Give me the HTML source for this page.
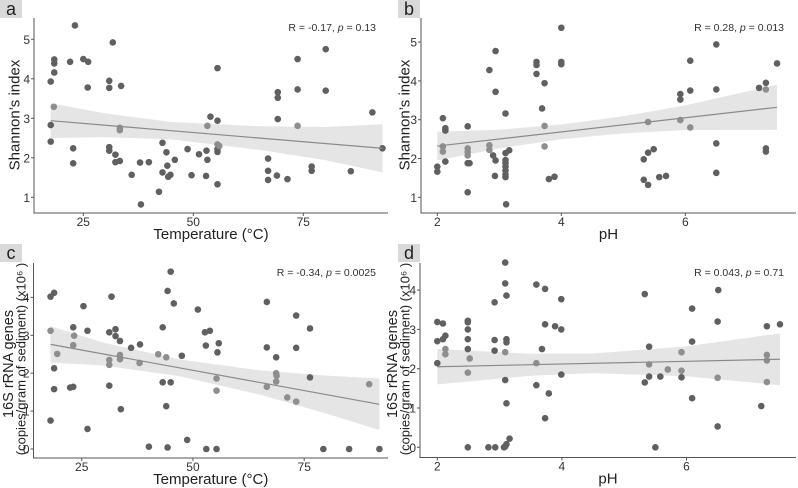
<!DOCTYPE html>
<html><head><meta charset="utf-8"><style>
html,body{margin:0;padding:0;background:#fff;}
svg{display:block;font-family:"Liberation Sans",sans-serif;}
</style></head><body>
<svg id="chart" width="798" height="488" viewBox="0 0 798 488">
</svg>
<script>
// Panel a: Shannon vs Temperature
const aX=[23.1,31.7,17.6,18.4,18.4,18.4,17.6,17.6,22.0,25,26.1,26.0,22.7,22.7,30.9,30.9,33.6,30.9,30.9,32.3,32.3,33.3,36.0,37.9,39.9,38.1,43.0,43.9,43.0,44.1,44.3,44.8,45.8,42.2,48.7,49.6,51.3,53.0,53.2,52.9,53.9,55.5,55.5,55.5,55.5,55.5,67.0,67.0,67.0,69.2,69.2,69.2,69.0,71.4,73.7,73.7,76.9,76.9,80.1,80.1,85.8,90.7,93.0];
const aY=[5.35,4.92,3.93,4.49,4.39,4.16,2.83,2.41,4.43,4.50,4.43,3.78,2.24,1.86,3.95,3.77,3.82,2.27,2.18,2.08,1.89,1.92,1.57,1.88,1.89,0.82,2.38,2.14,1.63,1.80,1.52,1.57,1.95,1.14,2.22,1.56,2.09,2.18,1.95,1.54,3.04,4.27,2.94,2.22,2.15,1.33,1.98,1.67,1.44,3.66,3.52,2.98,1.55,1.46,4.50,3.73,1.78,1.67,4.75,3.70,1.66,3.15,2.24];
const aXl=[18.3,33.3,33.3,53.2,55.5,55.9,73.7];
const aYl=[3.29,2.76,2.70,2.81,2.34,2.30,2.81];
const aLineX=[17.6,93.0], aLineY=[2.94,2.24];
const aBandX=[17.6,30,45,65,80,93.0], aBandHalf=[0.44,0.30,0.22,0.30,0.42,0.61];
// Panel b: Shannon vs pH
const bX=[2.0,2.0,2.09,2.13,2.13,2.13,2.49,2.49,2.52,2.49,2.84,2.94,2.94,2.90,2.94,2.93,3.10,3.10,3.16,3.10,3.10,3.10,3.10,3.10,3.10,3.11,3.60,3.60,3.60,3.73,3.69,3.80,3.89,4.0,4.0,4.0,5.33,5.33,5.40,5.40,5.49,5.58,5.69,5.92,5.92,6.08,6.08,6.50,6.50,6.50,6.50,7.19,7.30,7.30,7.30,7.48];
const bY=[1.79,1.66,3.04,2.78,2.72,1.92,2.83,1.88,1.88,1.13,4.28,4.77,3.72,2.08,1.95,1.55,3.16,2.14,2.21,1.96,1.88,1.79,1.69,1.59,1.52,0.82,4.49,4.41,4.18,3.94,3.29,1.47,1.53,5.37,4.49,4.43,1.98,1.45,1.32,2.15,2.24,1.52,1.55,3.66,3.52,4.52,3.75,4.94,3.78,2.39,1.63,3.82,3.95,2.26,2.18,4.45];
const bXl=[2.09,2.09,2.49,2.49,2.49,2.84,2.84,3.73,3.73,5.40,5.92,6.08,7.30];
const bYl=[2.31,2.18,2.26,2.17,2.08,2.34,2.22,2.84,2.31,2.94,2.99,2.80,3.78];
const bLineX=[2.0,7.48], bLineY=[2.32,3.32];
const bBandX=[2.0,3.0,4.0,5.0,6.0,7.48], bBandHalf=[0.37,0.24,0.19,0.22,0.32,0.58];
// Panel c: 16S vs Temperature
const cX=[18.0,18.8,18.8,18.8,18.0,23.1,22.4,23.1,25.4,26.3,26.3,31.7,31.2,32.6,32.6,33.6,31.2,33.8,36.1,38.1,40.1,43.2,43.2,44.3,45.0,45.7,45.0,44.0,44.3,47.5,48.7,51.1,52.7,53.8,52.9,55.5,55.8,53.0,55.3,66.6,66.6,68.7,73.2,73.2,76.3,76.3,79.3,85.1,91.9];
const cY=[4.02,4.12,2.13,1.58,0.75,3.21,1.62,1.64,3.77,3.12,0.53,4.02,3.08,3.16,2.98,2.85,1.67,1.05,2.67,2.76,0.06,3.21,1.76,4.17,4.68,3.84,1.76,1.13,0.04,2.46,0.24,3.68,3.08,3.12,2.73,2.55,2.79,0,0,3.88,2.68,2.42,3.52,2.67,3.18,1.89,0,0,0];
const cXl=[18.0,19.5,23.3,23.1,31.2,31.2,33.6,33.6,38.0,42.2,44.0,55.3,55.3,66.6,68.7,68.8,68.7,71.2,73.2,89.6];
const cYl=[3.12,2.51,2.99,2.74,2.35,2.22,2.48,2.37,2.27,2.50,2.42,1.86,1.54,1.64,2.00,1.93,1.78,1.36,1.25,1.71];
const cLineX=[18.0,91.9], cLineY=[2.76,1.18];
const cBandX=[18.0,30,47,65,80,91.9], cBandHalf=[0.48,0.30,0.22,0.32,0.50,0.68];
// Panel d: 16S vs pH
const dX=[2.0,2.0,2.0,2.09,2.09,2.13,2.49,2.49,2.49,2.49,2.49,2.49,2.82,2.93,2.92,2.92,2.92,3.09,3.09,3.11,3.11,3.11,3.09,3.11,3.07,3.09,3.11,3.16,3.59,3.73,3.73,3.89,3.99,3.99,3.99,3.68,3.59,3.79,3.73,5.33,5.40,5.40,5.33,5.50,5.58,5.92,6.09,6.09,6.09,6.51,6.50,6.50,7.20,7.29,7.50];
const dY=[3.19,2.70,2.14,3.15,2.75,2.84,3.22,3.18,3.00,2.75,2.50,0,0,0,3.69,2.73,2.46,4.70,4.17,3.86,2.75,2.67,1.71,1.12,0,0.02,0.08,0.22,4.14,4.03,3.13,3.08,3.00,3.77,1.85,2.50,1.58,1.37,0.74,3.90,2.56,1.80,1.65,0,1.80,1.78,3.53,2.69,1.25,4.0,3.20,0.53,1.05,3.08,3.13];
const dXl=[2.13,2.13,2.52,2.49,3.09,3.59,5.40,5.70,5.92,5.92,6.50,7.29,7.29,7.29];
const dYl=[2.50,2.37,2.26,1.90,2.42,2.14,2.11,1.98,2.42,1.95,1.77,2.35,2.21,1.66];
const dLineX=[2.0,7.5], dLineY=[2.05,2.24];
const dBandX=[2.0,3.5,4.5,6.0,7.5], dBandHalf=[0.45,0.28,0.25,0.38,0.66];

const aXT=[25,50,75], aYT=[1,2,3,4,5];
const bXT=[2,4,6], bYT=[1,2,3,4,5];
const cXT=[25,50,75], cYT=[0,1,2,3,4];
const dXT=[2,4,6], dYT=[0,1,2,3,4];

const NS="http://www.w3.org/2000/svg";
const svg=document.getElementById('chart');
function mk(tag,attrs,parent){const e=document.createElementNS(NS,tag);for(const k in attrs)e.setAttribute(k,attrs[k]);(parent||svg).appendChild(e);return e;}

const panels=[
 {id:'a',xs:(v)=>83.3+(v-25)*4.4, ys:(v)=>197.3-(v-1)*39.5, L:34,R:388,T:18,B:213,
  X:aX,Y:aY,Xl:aXl,Yl:aYl,lx:aLineX,ly:aLineY,bx:aBandX,bh:aBandHalf,xt:aXT,yt:aYT,
  xlab:'Temperature (°C)',ylab:['Shannon\u2019s index'],tx:[15],ty:[115],fs:['15'],stat:['R = -0.17, ','p',' = 0.13'],lbx:0,lby:0},
 {id:'b',xs:(v)=>437.3+(v-2)*62, ys:(v)=>197.3-(v-1)*38.8, L:421,R:796,T:18,B:213,
  X:bX,Y:bY,Xl:bXl,Yl:bYl,lx:bLineX,ly:bLineY,bx:bBandX,bh:bBandHalf,xt:bXT,yt:bYT,
  xlab:'pH',ylab:['Shannon\u2019s index'],tx:[405],ty:[115],fs:['15'],stat:['R = 0.28, ','p',' = 0.013'],lbx:398,lby:0},
 {id:'c',xs:(v)=>81.7+(v-25)*4.45, ys:(v)=>449-v*37.9, L:33.5,R:388,T:263,B:458,
  X:cX,Y:cY,Xl:cXl,Yl:cYl,lx:cLineX,ly:cLineY,bx:cBandX,bh:cBandHalf,xt:cXT,yt:cYT,
  xlab:'Temperature (°C)',ylab:['16S rRNA genes','(copies/gram of sediment) (x10\u2076 )'],tx:[9,21],ty:[364,359],fs:['14.5','13'],stat:['R = -0.34, ','p',' = 0.0025'],lbx:0,lby:244},
 {id:'d',xs:(v)=>437.3+(v-2)*62.3, ys:(v)=>447.3-v*39.3, L:420,R:796,T:263,B:457.5,
  X:dX,Y:dY,Xl:dXl,Yl:dYl,lx:dLineX,ly:dLineY,bx:dBandX,bh:dBandHalf,xt:dXT,yt:dYT,
  xlab:'pH',ylab:['16S rRNA genes','(copies/gram of sediment) (x10\u2076 )'],tx:[393,405],ty:[364,359],fs:['14.5','13'],stat:['R = 0.043, ','p',' = 0.71'],lbx:398,lby:244}
];

panels.forEach(p=>{
  const g=mk('g',{});
  
  
  const line=(x)=>p.ly[0]+(x-p.lx[0])*(p.ly[1]-p.ly[0])/(p.lx[1]-p.lx[0]);
  let up=[],lo=[];
  for(let i=0;i<p.bx.length;i++){up.push(p.xs(p.bx[i])+','+p.ys(line(p.bx[i])+p.bh[i]));lo.unshift(p.xs(p.bx[i])+','+p.ys(line(p.bx[i])-p.bh[i]));}
  const band=mk('polygon',{points:up.concat(lo).join(' '),fill:'#e5e5e6'},g);
  
  
  for(let i=0;i<p.X.length;i++){
    const c=mk('circle',{cx:p.xs(p.X[i]),cy:p.ys(p.Y[i]),r:3.3,fill:'#606060'},g);
    
    
  }
  for(let i=0;i<p.Xl.length;i++){
    const c=mk('circle',{cx:p.xs(p.Xl[i]),cy:p.ys(p.Yl[i]),r:3.3,fill:'#8e8e8e'},g);
    
    
  }
  const rl=mk('line',{x1:p.xs(p.lx[0]),y1:p.ys(p.ly[0]),x2:p.xs(p.lx[1]),y2:p.ys(p.ly[1]),stroke:'#8a8a8a','stroke-width':1.2},g);
  
  
  const ax=mk('path',{d:`M${p.L},${p.T}V${p.B}H${p.R}`,stroke:'#555',fill:'none','stroke-width':1},g);
  
  
  p.xt.forEach(t=>{
    const x=p.xs(t);
    mk('line',{x1:x,y1:p.B,x2:x,y2:p.B+3,stroke:'#555'},g);
    const tx=mk('text',{x:x,y:p.B+13,'text-anchor':'middle','font-size':'12',fill:'#333'},g);
    tx.textContent=t;
    
    
  });
  p.yt.forEach(t=>{
    const y=p.ys(t);
    mk('line',{x1:p.L-3,y1:y,x2:p.L,y2:y,stroke:'#555'},g);
    const ty=mk('text',{x:p.L-4,y:y+4.5,'text-anchor':'end','font-size':'12',fill:'#333'},g);
    ty.textContent=t;
    
    
  });
  const xl=mk('text',{x:(p.L+p.R)/2,y:p.B+26,'text-anchor':'middle','font-size':'15',fill:'#222'},g);
  xl.textContent=p.xlab;
  
  
  p.ylab.forEach((s,i)=>{
    const x=p.tx[i], cy=p.ty[i];
    const yl=mk('text',{x:x,y:cy,'text-anchor':'middle','font-size':p.fs[i],fill:'#222',transform:`rotate(-90 ${x} ${cy})`,'dominant-baseline':'central'},g);
    yl.textContent=s;
    
    
  });
  const lb=mk('rect',{x:p.lbx,y:p.lby,width:22,height:18,fill:'#d9d9d9'},g);
  
  
  const lt=mk('text',{x:p.lbx+11,y:p.lby+15,'text-anchor':'middle','font-size':'18',fill:'#222'},g);
  lt.textContent=p.id;
  
  
  const st=mk('text',{x:p.R-12,y:p.T+13,'text-anchor':'end','font-size':'10.5',fill:'#333'},g);
  
  
  const s1=mk('tspan',{},st);s1.textContent=p.stat[0];
  const s2=mk('tspan',{'font-style':'italic'},st);s2.textContent=p.stat[1];
  const s3=mk('tspan',{},st);s3.textContent=p.stat[2];
});
</script>
</body></html>
